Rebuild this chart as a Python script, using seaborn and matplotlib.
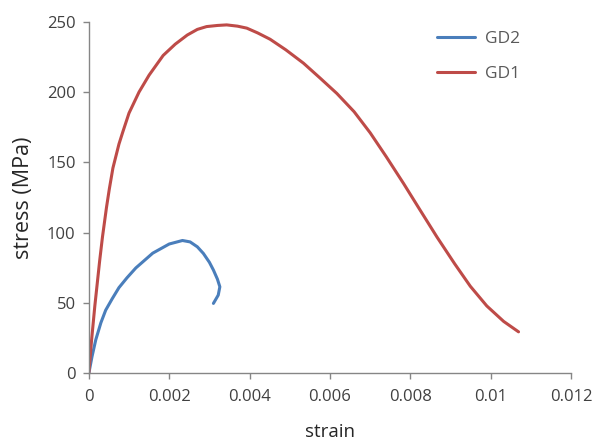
import matplotlib.pyplot as plt
import pandas as pd
import seaborn as sns

# values
gd1_strain = [0, 0.00007, 0.00015, 0.00027, 0.00034, 0.00044, 0.00051, 0.0006, 0.00075,
              0.00085, 0.001, 0.00125, 0.0015, 0.00185, 0.00215, 0.00245, 0.0027,
              0.00293, 0.0032, 0.00343, 0.0037, 0.00393, 0.0042, 0.00451, 0.0049,
              0.00534, 0.00575, 0.00617, 0.0066, 0.0070, 0.0074, 0.00783, 0.0082,
              0.00866, 0.0091, 0.00949, 0.0099, 0.01032, 0.01069]
gd1_stress = [0, 24, 48, 80, 97, 118, 131, 146, 163,
              172, 185, 200, 212, 226, 234, 240.5, 244.5,
              246.5, 247.3, 247.7, 246.8, 245.4, 242, 237.5, 230,
              220.5, 210, 199, 186, 171, 154, 135, 118,
              97, 78, 62, 48, 37, 29.6]

gd2_strain = [0, 0.00008, 0.000174, 0.0003, 0.00042, 0.00058, 0.00075, 0.00095, 0.00117,
              0.00159, 0.002, 0.00233, 0.00252, 0.0027, 0.00285, 0.0030, 0.0031,
              0.0032, 0.00326, 0.00322, 0.0031]
gd2_stress = [0, 12, 24, 36, 45, 53, 61, 68, 75,
              85.5, 92, 94.5, 93.5, 90, 85.3, 79, 73.5,
              67, 61.6, 55.7, 49.8]

x_ticks = [0, 0.002, 0.004, 0.006, 0.008, 0.01, 0.012]
x_labels = ["0", "0.002", "0.004", "0.006", "0.008", "0.01", "0.012"]
y_ticks = [0, 50, 100, 150, 200, 250]

df = pd.concat([
    pd.DataFrame({"strain": gd2_strain, "stress": gd2_stress, "sample": "GD2"}),
    pd.DataFrame({"strain": gd1_strain, "stress": gd1_stress, "sample": "GD1"}),
])

sns.set_style("white")
plt.rcParams["font.family"] = ["Open Sans", "DejaVu Sans"]

fig = plt.figure(figsize=(6, 4.42), dpi=100)
ax = fig.add_axes([0.148, 0.155, 0.804, 0.796])

sns.lineplot(
    data=df,
    x="strain",
    y="stress",
    hue="sample",
    hue_order=["GD2", "GD1"],
    palette={"GD2": "#4A7EBB", "GD1": "#BE4B48"},
    sort=False,
    estimator=None,
    linewidth=2.2,
    ax=ax,
)
for line in ax.get_lines():
    line.set_solid_joinstyle("round")
    line.set_solid_capstyle("round")

ax.set_xlim(0, 0.012)
ax.set_ylim(0, 250)
ax.set_xticks(x_ticks)
ax.set_xticklabels(x_labels)
ax.set_yticks(y_ticks)
ax.tick_params(axis="both", direction="out", length=4.5, width=1, color="#868686",
               labelsize=12, labelcolor="#404040", bottom=True, left=True)
ax.tick_params(axis="x", pad=7)
ax.tick_params(axis="y", pad=5)
sns.despine(ax=ax)
for side in ["left", "bottom"]:
    ax.spines[side].set_color("#868686")
    ax.spines[side].set_linewidth(1)

ax.set_xlabel("strain", fontsize=13.5, color="#262626")
ax.set_ylabel("stress (MPa)", fontsize=15.5, color="#262626")
ax.xaxis.set_label_coords(0.5, -0.14)
ax.yaxis.set_label_coords(-0.114, 0.5)

leg = ax.legend(loc="upper left", bbox_to_anchor=(0.722, 0.973), frameon=False,
                borderaxespad=0, borderpad=0, fontsize=12.5, handlelength=2.2,
                labelspacing=1.08, handletextpad=0.55)
for t in leg.get_texts():
    t.set_color("#595959")

fig.savefig("out.png", dpi=100)
